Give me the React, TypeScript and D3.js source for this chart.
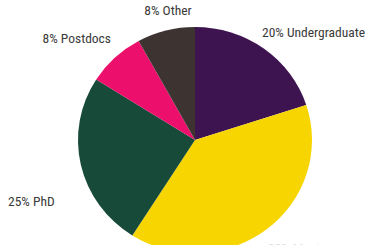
import React from "react";
import * as d3 from "d3";

const categories = ["Undergraduate", "Masters", "PhD", "Postdocs", "Other"];
const shares = [20, 39, 25, 8, 8];
const colors = ["#3E1450", "#F7D500", "#174A38", "#EC0F6B", "#3D3432"];

// label layout (x, y, anchor)
const labelLayout: [number, number, string][] = [
  [262, 37, "start"],
  [268, 253, "start"],
  [8, 206, "start"],
  [111, 43, "end"],
  [168, 15, "middle"],
];

const W = 372;
const H = 245;
const cx = 195;
const cy = 140;
const R = 117;
const squash = 113 / 117;

export default function App() {
  const pie = d3
    .pie<number>()
    .sort(null)
    .value((d) => d)
    .startAngle(0)
    .endAngle(2 * Math.PI);
  const arcs = pie(shares);
  const arc = d3.arc<d3.PieArcDatum<number>>().innerRadius(0).outerRadius(R);
  return (
    <div style={{ position: "fixed", left: 0, top: 0 }}>
      <svg width={W} height={H} style={{ display: "block", background: "#fff" }}>
        <g transform={`translate(${cx},${cy}) scale(1,${squash})`}>
          {arcs.map((a, i) => (
            <path key={i} d={arc(a) || ""} fill={colors[i]} />
          ))}
        </g>
        {arcs.map((a, i) => (
          <text
            key={i}
            x={labelLayout[i][0]}
            y={labelLayout[i][1]}
            textAnchor={labelLayout[i][2] as any}
            fontFamily="'Liberation Sans Narrow', 'Roboto Condensed', Roboto, sans-serif"
            fontSize={13.5}
            fill={i === 1 ? "#d8d8d8" : "#3a3a3a"}
          >
            {`${shares[i]}% ${categories[i]}`}
          </text>
        ))}
      </svg>
    </div>
  );
}
